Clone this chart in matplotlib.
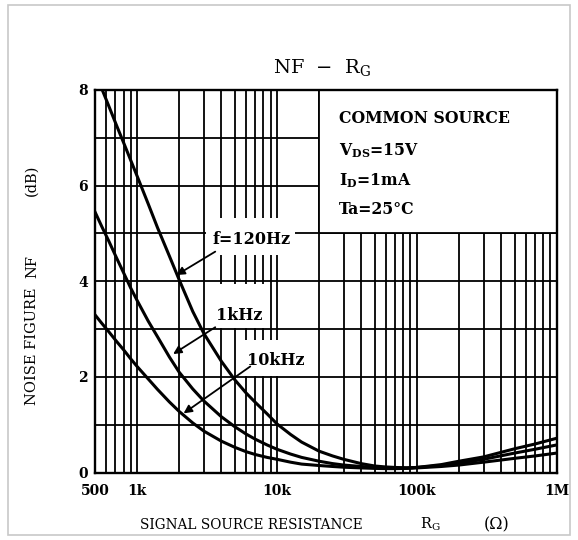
import matplotlib
matplotlib.use("Agg")
import matplotlib.pyplot as plt
from matplotlib.patches import Rectangle

plt.rcParams['font.family'] = ['DejaVu Serif']
plt.rcParams['mathtext.fontset'] = 'dejavuserif'

# source resistance (ohm)
rg = [500, 560, 630, 710, 800, 900, 1000, 1200, 1400, 1700, 2000, 2500, 3000,
      4000, 5000, 6000, 7000, 8500, 10000, 12500, 15000, 20000, 25000, 30000,
      40000, 50000, 60000, 70000, 85000, 100000, 150000, 200000, 300000,
      500000, 700000, 1000000]

# noise figure (dB) for each frequency
nf_120hz = [8.38, 8.02, 7.65, 7.27, 6.9, 6.53, 6.2, 5.62, 5.12, 4.53, 4.03, 3.37,
            2.91, 2.33, 1.94, 1.67, 1.47, 1.23, 1.02, 0.8, 0.64, 0.45, 0.35, 0.28,
            0.19, 0.14, 0.12, 0.11, 0.1, 0.11, 0.17, 0.24, 0.33, 0.5, 0.6, 0.72]
nf_1khz = [5.45, 5.14, 4.83, 4.5, 4.18, 3.86, 3.6, 3.17, 2.84, 2.42, 2.1, 1.75,
           1.5, 1.17, 0.96, 0.81, 0.7, 0.58, 0.49, 0.39, 0.32, 0.24, 0.19, 0.16,
           0.13, 0.11, 0.1, 0.1, 0.1, 0.11, 0.15, 0.2, 0.28, 0.41, 0.49, 0.58]
nf_10khz = [3.3, 3.12, 2.94, 2.75, 2.57, 2.38, 2.22, 1.96, 1.74, 1.48, 1.28, 1.04,
            0.87, 0.66, 0.53, 0.44, 0.38, 0.32, 0.28, 0.22, 0.18, 0.15, 0.13, 0.115,
            0.1, 0.09, 0.085, 0.085, 0.09, 0.1, 0.13, 0.16, 0.22, 0.3, 0.35, 0.41]

x_ticks = [500, 1000, 10000, 100000, 1000000]
x_labels = ['500', '1k', '10k', '100k', '1M']
y_ticks = [0, 2, 4, 6, 8]

W, H = 578, 540
fig = plt.figure(figsize=(W / 100, H / 100), dpi=100)
ax = fig.add_axes([95 / W, 67.3 / H, 461.7 / W, 382.8 / H])

ax.set_xscale('log')
ax.set_xlim(500, 1e6)
ax.set_ylim(0, 8)

# grid at every 1..9 multiple of each decade
minor_x = [m * 10 ** d for d in range(2, 6) for m in range(1, 10)]
minor_x = [v for v in minor_x if 500 < v < 1e6 and v not in x_ticks]
ax.set_xticks(x_ticks)
ax.set_xticklabels(x_labels)
ax.set_xticks(minor_x, minor=True)
ax.set_xticklabels([], minor=True)
ax.set_yticks(y_ticks)
ax.set_yticks([1, 3, 5, 7], minor=True)
ax.grid(which='both', color='black', lw=1.3)
ax.tick_params(which='both', length=0)
ax.tick_params(axis='x', pad=8)
ax.tick_params(axis='y', pad=5)
for lab in ax.get_xticklabels() + ax.get_yticklabels():
    lab.set_fontweight('bold')
    lab.set_fontsize(10)
for sp in ax.spines.values():
    sp.set_linewidth(1.7)

# condition box in the upper right
ax.add_patch(Rectangle((2e4, 5), 1e6 - 2e4, 3, facecolor='white',
                       edgecolor='black', lw=1.3, zorder=2))
cond = ['COMMON SOURCE', r'V$_{\mathbf{DS}}$=15V', r'I$_{\mathbf{D}}$=1mA', 'Ta=25°C']
cond_y = [7.30, 6.64, 6.01, 5.40]
for t, yy in zip(cond, cond_y):
    ax.text(2.79e4, yy, t, fontsize=11.3, fontweight='bold', va='baseline', ha='left', zorder=3)

for vals in (nf_120hz, nf_1khz, nf_10khz):
    ax.plot(rg, vals, color='black', lw=2.2, zorder=2.5, solid_joinstyle='round')

# white patches behind the curve labels
for (x0, x1, y0, y1) in [(3.13e3, 13.5e3, 4.55, 5.32),
                         (3.13e3, 8.24e3, 3.03, 3.94),
                         (5.93e3, 15.9e3, 2.03, 2.77)]:
    ax.add_patch(Rectangle((x0, y0), x1 - x0, y1 - y0, facecolor='white',
                           edgecolor='none', zorder=2.2))

arrow = dict(arrowstyle='-|>', color='black', lw=1.3, mutation_scale=12, shrinkA=0, shrinkB=0)
ax.text(6.58e3, 4.77, 'f=120Hz', fontsize=11.5, fontweight='bold', ha='center',
        va='baseline', zorder=4)
ax.annotate('', xy=(1.91e3, 4.13), xytext=(3.62e3, 4.62), arrowprops=arrow, zorder=4)
ax.text(5.38e3, 3.19, '1kHz', fontsize=11.5, fontweight='bold', ha='center',
        va='baseline', zorder=4)
ax.annotate('', xy=(1.81e3, 2.48), xytext=(3.62e3, 3.04), arrowprops=arrow, zorder=4)
ax.text(9.88e3, 2.25, '10kHz', fontsize=11.5, fontweight='bold', ha='center',
        va='baseline', zorder=4)
ax.annotate('', xy=(2.15e3, 1.24), xytext=(6.44e3, 2.22), arrowprops=arrow, zorder=4)

fig.text(322 / W, 1 - 68 / H, r'NF  $-$  R$_\mathrm{G}$', fontsize=14, ha='center', va='center')

fig.text(251 / W, 1 - 529 / H, 'SIGNAL SOURCE RESISTANCE', fontsize=9.8,
         ha='center', va='baseline')
fig.text(430 / W, 1 - 529 / H, r'R$_\mathrm{G}$', fontsize=10.5, ha='center', va='baseline')
fig.text(497 / W, 1 - 529 / H, '(Ω)', fontsize=11.5, ha='center', va='baseline')

fig.text(32 / W, 1 - 346 / H, 'NOISE FIGURE', fontsize=10.5, rotation=90,
         ha='center', va='center')
fig.text(32 / W, 1 - 267 / H, 'NF', fontsize=10.5, rotation=90, ha='center', va='center')
fig.text(32 / W, 1 - 180 / H, '(dB)', fontsize=10.5, rotation=90, ha='center', va='center')

fig.patches.append(Rectangle((8 / W, 5 / H), 562 / W, 530 / H, transform=fig.transFigure,
                             fill=False, edgecolor='#c8c8c8', lw=1.2))

fig.savefig('out.png', dpi=100)
